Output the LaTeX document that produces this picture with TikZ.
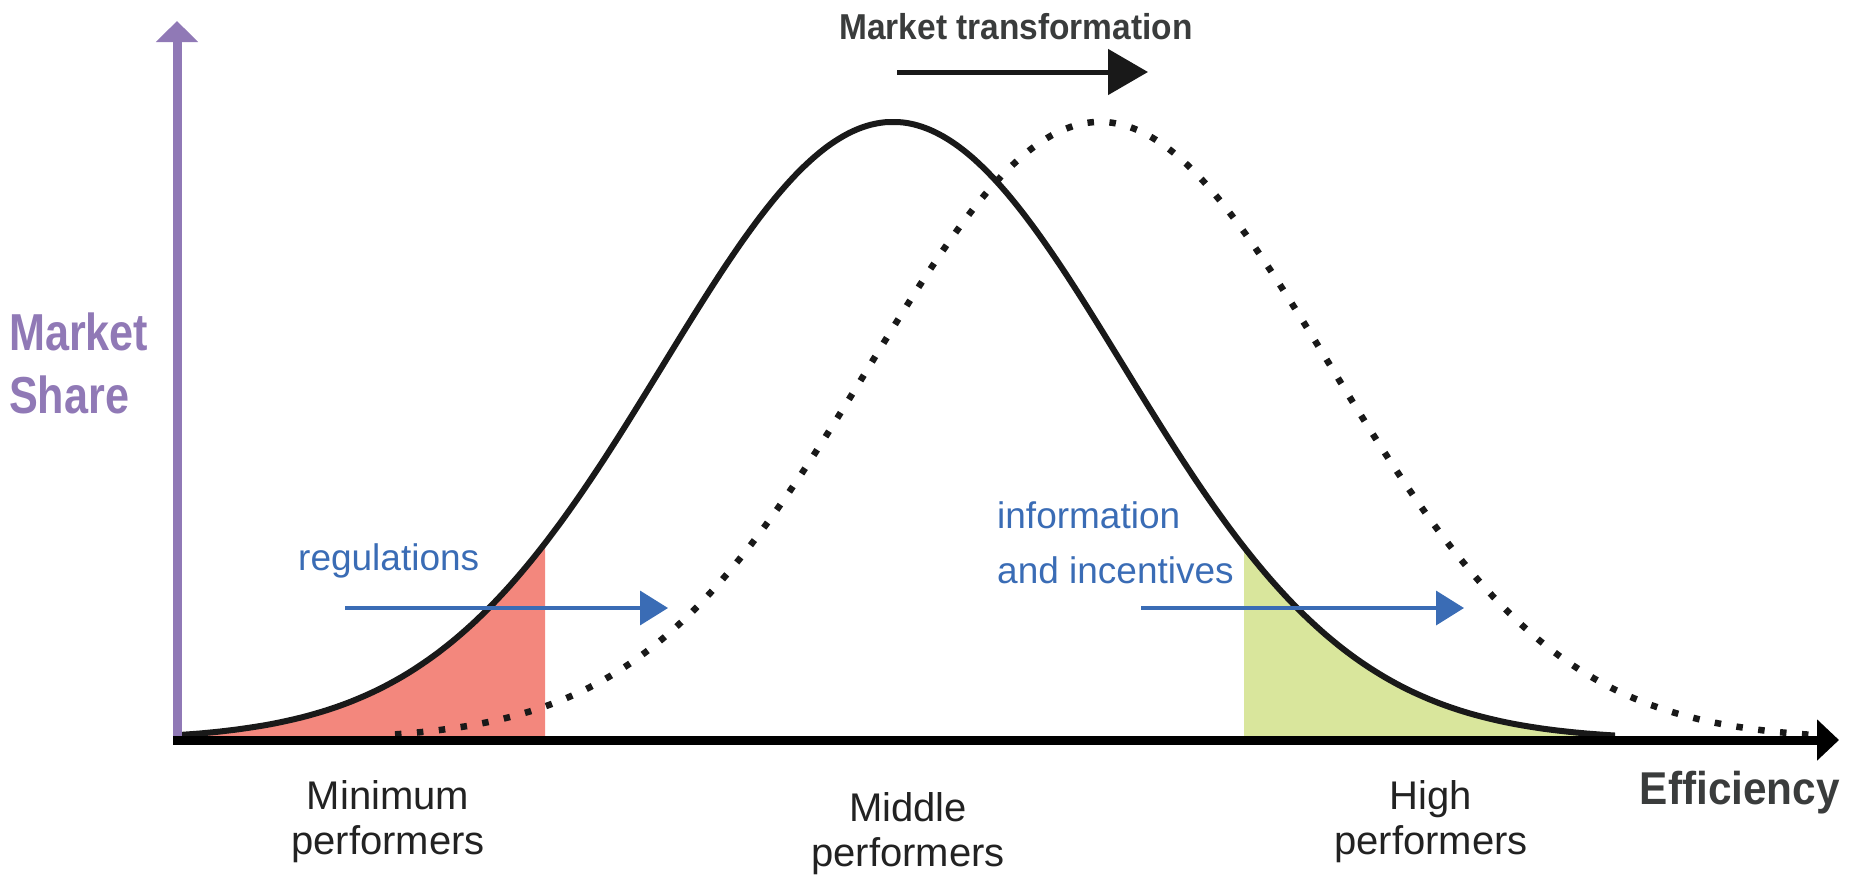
\documentclass[tikz,border=0pt]{standalone}
\usepackage{fontspec}
\setmainfont{Liberation Sans}
\usetikzlibrary{arrows.meta}
\definecolor{axispurple}{RGB}{144,121,182}
\definecolor{infoblue}{RGB}{58,108,181}
\definecolor{minred}{RGB}{243,135,125}
\definecolor{highgreen}{RGB}{217,230,156}
\definecolor{darktext}{RGB}{58,60,60}
\definecolor{labeltext}{RGB}{34,34,34}
\newcommand{\cond}[2]{\scalebox{#1}[1]{#2}}
\begin{document}
\begin{tikzpicture}[x=1pt,y=1pt,
  declare function={
    gA(\t)=-740+618*exp(-0.5*((\t-893)/230)*((\t-893)/230));
    gB(\t)=-740+618*exp(-0.5*((\t-1100)/230)*((\t-1100)/230));
  },
  solidcurve/.style={line width=6pt, black!90},
  dotcurve/.style={line width=6.5pt, black!90, dash pattern=on 6.5pt off 15.5pt},
  purpleaxis/.style={line width=9pt, axispurple, -{Triangle[length=21pt,width=41pt]}},
  blackaxis/.style={line width=9pt, black, -{Triangle[length=22pt,width=40pt]}},
  bluearrow/.style={line width=3.5pt, infoblue, -{Triangle[length=28pt,width=34pt]}},
  shiftarrow/.style={line width=5pt, black!90, -{Triangle[length=40pt,width=45pt]}},
  boldlabel/.style={inner sep=0pt, text=darktext, font=\bfseries},
  perflabel/.style={inner sep=0pt, text=labeltext, align=center, font=\fontsize{40}{45}\selectfont},
  bluelabel/.style={inner sep=0pt, text=infoblue, font=\fontsize{37}{55}\selectfont}
]
\useasboundingbox (0,0) rectangle (1855,-879);

% filled regions
\fill[minred] (177,-740) -- plot[domain=177:545, samples=60, smooth] (\x,{gA(\x)}) -- (545,-740) -- cycle;
\fill[highgreen] (1244,-740) -- plot[domain=1244:1615, samples=60, smooth] (\x,{gA(\x)}) -- (1615,-740) -- cycle;

% curves
\draw[dotcurve] plot[domain=395:1815, samples=200, smooth] (\x,{gB(\x)});
\draw[solidcurve] plot[domain=177:1615, samples=200, smooth] (\x,{gA(\x)});

% axes
\coordinate (yfoot) at (177,-740);
\coordinate (ytip) at (177,-21);
\coordinate (xfoot) at (173,-740);
\coordinate (xtip) at (1839,-740);
\draw[purpleaxis] (yfoot) -- (ytip);
\draw[blackaxis] (xfoot) -- (xtip);

% shift arrows
\coordinate (regA) at (345,-608);
\coordinate (regB) at (668,-608);
\coordinate (infA) at (1141,-608);
\coordinate (infB) at (1464,-608);
\coordinate (mtA) at (897,-72);
\coordinate (mtB) at (1148,-72);
\draw[bluearrow] (regA) -- (regB);
\draw[bluearrow] (infA) -- (infB);
\draw[shiftarrow] (mtA) -- (mtB);

% texts
\node[boldlabel, anchor=base, font=\fontsize{36}{40}\selectfont\bfseries] (mt) at (1016,-39) {\cond{0.93}{Market transformation}};
\node[boldlabel, anchor=west, align=left, text=axispurple, font=\fontsize{52}{63}\selectfont\bfseries] (ms) at (9,-363) {\cond{0.83}{Market}\\\cond{0.83}{Share}};
\node[boldlabel, anchor=base east, font=\fontsize{46}{50}\selectfont\bfseries] (eff) at (1840,-804) {\cond{0.92}{Efficiency}};
\node[bluelabel, anchor=base west] (reg) at (298,-570) {regulations};
\node[bluelabel, anchor=west, align=left] (inf) at (997,-543) {information\\and incentives};
\node[perflabel] (minp) at (388,-822) {Minimum\\performers};
\node[perflabel] (midp) at (908,-834) {Middle\\performers};
\node[perflabel] (highp) at (1431,-822) {High\\performers};
\end{tikzpicture}
\end{document}
